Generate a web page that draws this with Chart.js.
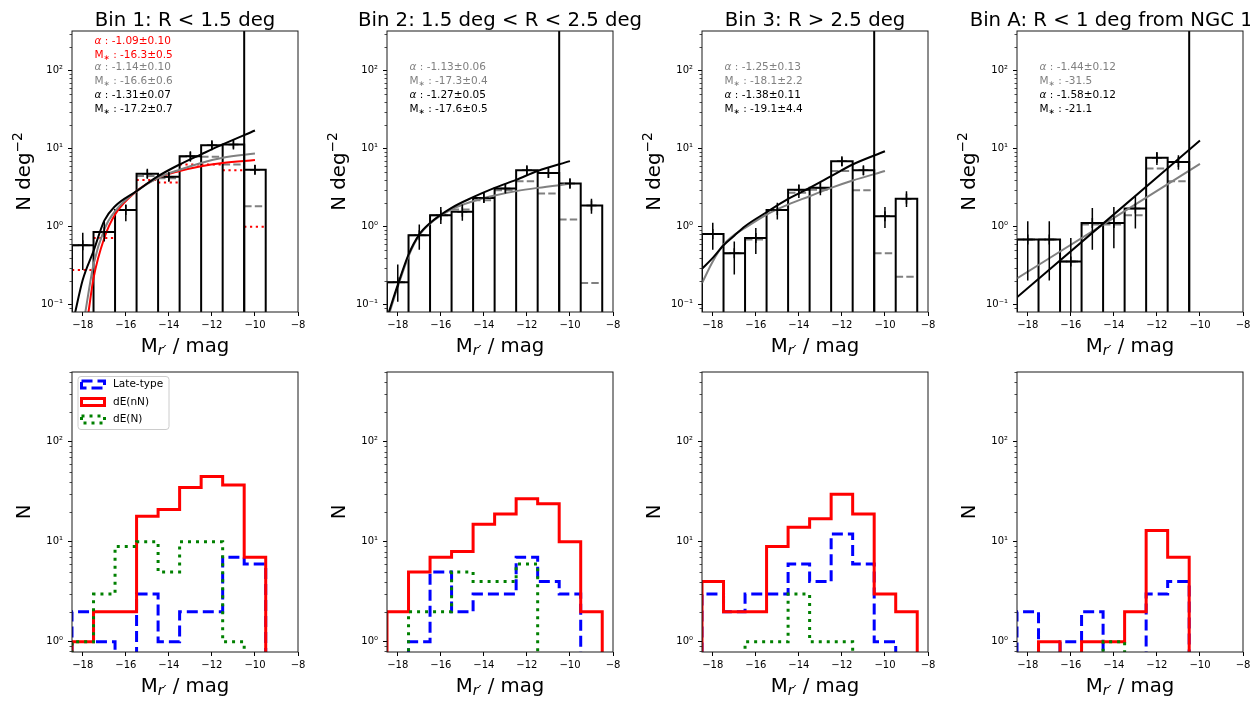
<!DOCTYPE html>
<html>
<head>
<meta charset="utf-8">
<title>Dwarf galaxy luminosity functions</title>
<script src="https://cdn.jsdelivr.net/npm/chart.js@4.4.1/dist/chart.umd.min.js"></script>
<style>
  html, body { margin: 0; padding: 0; background: #fff; }
  body { width: 1250px; height: 701px; position: relative; overflow: hidden; }
</style>
</head>
<body>
<script>
// ---- data ----
const binCentres = [-18, -17, -16, -15, -14, -13, -12, -11, -10, -9];
const completenessLimit = -10.5;
const xTickValues = [-18, -16, -14, -12, -10, -8];

const panelTitles = ['Bin 1: R < 1.5 deg', 'Bin 2: 1.5 deg < R < 2.5 deg', 'Bin 3: R > 2.5 deg', 'Bin A: R < 1 deg from NGC 1399'];

// top row: surface density (N deg^-2), black histogram + error bars
const density1 = [0.58, 0.86, 1.64, 4.8, 4.4, 8.05, 11.1, 11.4, 5.4, null];
const errLow1 = [0.28, 0.65, 1.18, 4.2, 3.85, 6.9, 9.8, 10.1, 4.7, null];
const errHigh1 = [0.84, 1.18, 1.93, 5.4, 4.9, 9.1, 12.5, 12.8, 6.2, null];
const densityGrey1 = [0.58, 0.86, 1.64, 4.5, 4.2, 8.0, 7.9, 6.3, 1.84, null];
const densityRed1 = [0.28, 0.72, 1.64, 4.0, 3.7, 6.3, 6.3, 5.3, 1.0, null];

const density2 = [0.195, 0.78, 1.41, 1.56, 2.35, 3.1, 5.3, 4.9, 3.6, 1.88];
const errLow2 = [0.11, 0.51, 1.09, 1.2, 2.03, 2.73, 4.6, 4.25, 3.1, 1.47];
const errHigh2 = [0.33, 1.07, 1.79, 1.93, 2.73, 3.56, 6.0, 5.5, 4.17, 2.3];
const densityGrey2 = [0.195, 0.78, 1.41, 1.67, 2.2, 2.95, 3.85, 2.67, 1.24, 0.19];

const density3 = [0.81, 0.46, 0.72, 1.64, 3.0, 3.16, 6.95, 5.3, 1.37, 2.29];
const errLow3 = [0.51, 0.245, 0.45, 1.24, 2.35, 2.55, 6.0, 4.6, 0.97, 1.79];
const errHigh3 = [1.13, 0.65, 0.97, 2.03, 3.5, 3.77, 7.8, 6.0, 1.79, 2.87];
const densityGrey3 = [0.81, 0.46, 0.69, 1.64, 2.73, 3.0, 5.2, 2.95, 0.46, 0.23];

const density4 = [0.69, 0.69, 0.36, 1.12, 1.12, 1.72, 7.7, 6.8, null, null];
const errLow4 = [0.205, 0.205, 0.05, 0.51, 0.53, 0.95, 6.2, 5.4, null, null];
const errHigh4 = [1.18, 1.18, 0.72, 1.75, 1.79, 2.47, 9.1, 8.3, null, null];
const densityGrey4 = [0.69, 0.69, 0.36, 1.07, 1.07, 1.41, 5.6, 3.85, null, null];

// Schechter fits, sampled off the curves
const fitMagBlack1 = [-18.4, -18, -17.5, -17, -16.5, -15.5, -14.5, -13.5, -12.5, -11.5, -10];
const fitBlack1 = [0.07, 0.21, 0.49, 1.2, 1.84, 2.87, 4.46, 6.3, 8.5, 11.4, 17.2];
const fitMagGrey1 = [-17.9, -17.5, -17, -16.5, -15.5, -14.5, -13.5, -12.5, -11.5, -10];
const fitGrey1 = [0.075, 0.33, 0.93, 1.59, 2.87, 4.25, 5.4, 6.6, 7.7, 8.7];
const fitMagRed1 = [-17.75, -17.5, -17, -16.5, -15.5, -14.5, -13.5, -12.5, -11.5, -10];
const fitRed1 = [0.075, 0.22, 0.72, 1.44, 2.87, 4.25, 5.2, 6.0, 6.6, 7.2];

const fitMag2 = [-18.45, -18, -17.5, -17, -16.5, -15.5, -14.5, -13.5, -12.5, -11.5, -10];
const fitBlack2 = [0.075, 0.18, 0.44, 0.8, 1.12, 1.75, 2.4, 3.16, 4.0, 5.2, 6.95];
const fitGrey2 = [0.07, 0.17, 0.42, 0.78, 1.1, 1.67, 2.13, 2.52, 2.87, 3.16, 3.56];

const fitMag3 = [-18.5, -18, -17.5, -17, -16.5, -15.5, -14.5, -13.5, -12.5, -11.5, -10];
const fitBlack3 = [0.29, 0.40, 0.58, 0.77, 1.02, 1.54, 2.28, 3.16, 4.46, 6.3, 9.3];
const fitGrey3 = [0.19, 0.36, 0.59, 0.79, 0.97, 1.44, 1.93, 2.47, 3.16, 3.93, 5.2];

const fitMag4 = [-18.5, -14.5, -10];
const fitBlack4 = [0.125, 1.1, 12.8];
const fitGrey4 = [0.218, 1.07, 6.4];

const fitAlpha1 = ['-1.09±0.10', '-1.14±0.10', '-1.31±0.07'];
const fitMstar1 = ['-16.3±0.5', '-16.6±0.6', '-17.2±0.7'];
const fitAlpha2 = ['-1.13±0.06', '-1.27±0.05'];
const fitMstar2 = ['-17.3±0.4', '-17.6±0.5'];
const fitAlpha3 = ['-1.25±0.13', '-1.38±0.11'];
const fitMstar3 = ['-18.1±2.2', '-19.1±4.4'];
const fitAlpha4 = ['-1.44±0.12', '-1.58±0.12'];
const fitMstar4 = ['-31.5', '-21.1'];

// bottom row: galaxy counts per morphological type
const seriesLabels = ['Late-type', 'dE(nN)', 'dE(N)'];
const lateType1 = [2, 1, 0, 3, 1, 2, 2, 7, 6, 0];
const dEnN1 = [1, 2, 2, 18, 21, 35, 45, 37, 7, 0];
const dEN1 = [1, 3, 9, 10, 5, 10, 10, 1, 0, 0];
const lateType2 = [0, 1, 5, 2, 3, 3, 7, 4, 3, 0];
const dEnN2 = [2, 5, 7, 8, 15, 19, 27, 24, 10, 2];
const dEN2 = [0, 2, 2, 5, 4, 4, 6, 0, 0, 0];
const lateType3 = [3, 2, 3, 3, 6, 4, 12, 6, 1, 0];
const dEnN3 = [4, 2, 2, 9, 14, 17, 30, 19, 3, 2];
const dEN3 = [0, 0, 1, 1, 3, 1, 1, 0, 0, 0];
const lateType4 = [2, 0, 1, 2, 0, 0, 3, 4, 0, 0];
const dEnN4 = [0, 1, 0, 1, 1, 2, 13, 7, 0, 0];
const dEN4 = [0, 0, 0, 0, 1, 0, 0, 0, 0, 0];

// ---- layout ----
const FAMILY = '"DejaVu Sans", sans-serif';
const GREY = '#808080';
const floorValue = 1e-3;   // stands in for zero on the log axes
const panelLefts = [72, 387, 702, 1017];
const plotWidth = 226, yAxisWidth = 53, leftPad = 17, xAxisHeight = 43, canvasWidth = 360;
const rows = [
  { canvasTop: 0, height: 356, padTop: 31, plotHeight: 281, yMin: 0.081, yMax: 324 },
  { canvasTop: 356, height: 345, padTop: 16, plotHeight: 280, yMin: 0.79, yMax: 500 }
];

Chart.defaults.font.family = FAMILY;
Chart.defaults.font.size = 10;
Chart.defaults.color = '#000';

function isDecade(v) {
  const e = Math.log10(v);
  return Math.abs(e - Math.round(e)) < 1e-9;
}

function logTickValues(min, max) {
  const out = [];
  for (let e = Math.floor(Math.log10(min)); e <= Math.ceil(Math.log10(max)); e++) {
    for (let m = 1; m <= 9; m++) {
      const v = +(m * Math.pow(10, e)).toPrecision(6);
      if (v >= min && v <= max) out.push(v);
    }
  }
  return out;
}

const superDigits = { '-': '⁻', '0': '⁰', '1': '¹', '2': '²', '3': '³' };
function decadeLabel(v) {
  if (!isDecade(v)) return '';
  return '10' + String(Math.round(Math.log10(v))).split('').map(c => superDigits[c]).join('');
}

// ---- point lists built from the arrays ----
function barOutline(values) {
  const pts = [];
  values.forEach((v, i) => {
    if (v == null) return;
    const l = binCentres[i] - 0.5, r = binCentres[i] + 0.5;
    pts.push({ x: l, y: floorValue }, { x: l, y: v }, { x: r, y: v }, { x: r, y: floorValue }, { x: r, y: null });
  });
  return pts;
}

function levelSegments(values) {
  const pts = [];
  values.forEach((v, i) => {
    if (v == null) return;
    pts.push({ x: binCentres[i] - 0.5, y: v }, { x: binCentres[i] + 0.5, y: v }, { x: binCentres[i] + 0.5, y: null });
  });
  return pts;
}

function errorSegments(lo, hi) {
  const pts = [];
  lo.forEach((v, i) => {
    if (v == null) return;
    pts.push({ x: binCentres[i], y: v }, { x: binCentres[i], y: hi[i] }, { x: binCentres[i], y: null });
  });
  return pts;
}

function centrePoints(values) {
  return values.map((v, i) => ({ x: binCentres[i], y: v })).filter(p => p.y != null);
}

function stepOutline(counts) {
  const last = binCentres.length - 1;
  const pts = [{ x: binCentres[0] - 0.5, y: floorValue }];
  counts.forEach((n, i) => {
    const y = n > 0 ? n : floorValue;
    pts.push({ x: binCentres[i] - 0.5, y }, { x: binCentres[i] + 0.5, y });
  });
  pts.push({ x: binCentres[last] + 0.5, y: floorValue });
  return pts;
}

function curvePoints(mags, values) {
  return mags.map((m, i) => ({ x: m, y: values[i] }));
}

function lineSet(data, colour, width, dash, label) {
  return {
    type: 'line', label, data, borderColor: colour, borderWidth: width, borderDash: dash || [],
    pointRadius: 0, fill: false, tension: 0, spanGaps: false,
    borderCapStyle: 'butt', borderJoinStyle: 'miter'
  };
}

// ---- text drawing ----
const labelFont = '19.7px ' + FAMILY;
const subFont = 'italic 13.8px ' + FAMILY;
const supFont = '13.8px ' + FAMILY;
const annFont = '10.5px ' + FAMILY;
const annItalic = 'italic 10.5px ' + FAMILY;
const starFont = '7.5px ' + FAMILY;

function drawRich(ctx, parts, x, y, align) {
  ctx.textAlign = 'left';
  let w = 0;
  parts.forEach(p => { ctx.font = p.font; w += ctx.measureText(p.text).width; });
  let cx = align === 'center' ? x - w / 2 : x;
  parts.forEach(p => {
    ctx.font = p.font;
    ctx.fillText(p.text, cx, y + (p.dy || 0));
    cx += ctx.measureText(p.text).width;
  });
}

const xTitleParts = [
  { text: 'M', font: labelFont },
  { text: 'r′', font: subFont, dy: 3.5 },
  { text: ' / mag', font: labelFont }
];
const densityTitleParts = [
  { text: 'N deg', font: labelFont },
  { text: '−2', font: supFont, dy: -8 }
];
const countTitleParts = [{ text: 'N', font: labelFont }];

const panelDecor = {
  id: 'panelDecor',
  afterDatasetsDraw(chart, args, o) {
    const ctx = chart.ctx, a = chart.chartArea, ys = chart.scales.y;
    ctx.save();

    // minor y ticks
    ctx.strokeStyle = '#000';
    ctx.lineWidth = 0.7;
    ctx.beginPath();
    ys.ticks.forEach(t => {
      if (isDecade(t.value)) return;
      const y = Math.round(ys.getPixelForValue(t.value)) + 0.5;
      ctx.moveTo(a.left - 2.5, y);
      ctx.lineTo(a.left, y);
    });
    ctx.stroke();

    // frame
    ctx.lineWidth = 1;
    ctx.strokeStyle = '#1a1a1a';
    ctx.strokeRect(a.left, a.top, a.right - a.left, a.bottom - a.top);

    ctx.fillStyle = '#000';
    ctx.textBaseline = 'alphabetic';
    if (o.title) {
      ctx.font = labelFont;
      ctx.textAlign = 'center';
      ctx.fillText(o.title, (a.left + a.right) / 2, a.top - 5.5);
    }
    drawRich(ctx, xTitleParts, (a.left + a.right) / 2, a.bottom + 39.5, 'center');
    ctx.save();
    ctx.translate(a.left - 42, (a.top + a.bottom) / 2);
    ctx.rotate(-Math.PI / 2);
    drawRich(ctx, o.yTitle, 0, 0, 'center');
    ctx.restore();

    // fit parameters
    if (o.alpha) {
      const offsets = [10.2, 24.5, 35.8, 50.2, 64.5, 78.5].slice(6 - 2 * o.alpha.length);
      ctx.textBaseline = 'middle';
      o.alpha.forEach((val, k) => {
        ctx.fillStyle = o.fitColours[k];
        drawRich(ctx, [{ text: 'α', font: annItalic }, { text: ' : ' + val, font: annFont }],
          a.left + 22.5, a.top + offsets[2 * k], 'left');
        drawRich(ctx, [{ text: 'M', font: annFont }, { text: '∗', font: starFont, dy: 2.5 }, { text: ' : ' + o.mstar[k], font: annFont }],
          a.left + 22.5, a.top + offsets[2 * k + 1], 'left');
      });
    }

    // legend
    if (o.legend) {
      const lx = a.left + 6, ly = a.top + 4.5, lw = 91, lh = 53;
      ctx.beginPath();
      if (ctx.roundRect) ctx.roundRect(lx, ly, lw, lh, 3); else ctx.rect(lx, ly, lw, lh);
      ctx.fillStyle = 'rgba(255,255,255,0.8)';
      ctx.fill();
      ctx.lineWidth = 1;
      ctx.strokeStyle = '#cccccc';
      ctx.stroke();
      seriesLabels.forEach((label, i) => {
        const ds = chart.data.datasets.find(d => d.label === label);
        const cy = a.top + 12.5 + i * 17.5;
        ctx.setLineDash(ds.borderDash);
        ctx.strokeStyle = ds.borderColor;
        ctx.lineWidth = 3;
        ctx.strokeRect(a.left + 9.5, cy - 3.5, 23, 7);
        ctx.setLineDash([]);
        ctx.fillStyle = '#000';
        ctx.font = annFont;
        ctx.textAlign = 'left';
        ctx.textBaseline = 'middle';
        ctx.fillText(label, a.left + 41, cy);
      });
    }
    ctx.restore();
  }
};

function makeChart(col, row, datasets, decor) {
  const r = rows[row];
  const c = document.createElement('canvas');
  const left = panelLefts[col] - yAxisWidth - leftPad;
  c.width = canvasWidth;
  c.height = r.height;
  c.style.cssText = 'position:absolute;left:' + left + 'px;top:' + r.canvasTop + 'px;width:' +
    canvasWidth + 'px;height:' + r.height + 'px';
  document.body.appendChild(c);
  const yTicks = logTickValues(r.yMin, r.yMax);
  return new Chart(c, {
    type: 'line',
    data: { datasets },
    options: {
      responsive: false,
      animation: false,
      events: [],
      layout: {
        padding: {
          left: leftPad, top: r.padTop, right: canvasWidth - leftPad - yAxisWidth - plotWidth,
          bottom: r.height - r.padTop - r.plotHeight - xAxisHeight
        }
      },
      plugins: { legend: { display: false }, tooltip: { enabled: false }, panelDecor: decor },
      scales: {
        x: {
          type: 'linear', min: -18.5, max: -8, offset: false,
          afterBuildTicks: s => { s.ticks = xTickValues.map(v => ({ value: v })); },
          afterFit: s => { s.height = xAxisHeight; },
          ticks: {
            autoSkip: false, maxRotation: 0, padding: 3, font: { size: 10 },
            callback: v => (v < 0 ? '−' + Math.abs(v) : String(v))
          },
          grid: { drawOnChartArea: false, drawTicks: true, tickLength: 4, tickColor: '#000', tickWidth: 1 },
          border: { display: false }
        },
        y: {
          type: 'logarithmic', min: r.yMin, max: r.yMax,
          afterBuildTicks: s => { s.ticks = yTicks.map(v => ({ value: v })); },
          afterFit: s => { s.width = yAxisWidth; },
          ticks: { autoSkip: false, padding: 5, font: { size: 10 }, callback: v => decadeLabel(v) },
          grid: {
            drawOnChartArea: false, drawTicks: true, tickLength: 4, tickWidth: 1,
            tickColor: ctx => (ctx.tick && isDecade(ctx.tick.value) ? '#000' : 'rgba(0,0,0,0)')
          },
          border: { display: false }
        }
      }
    },
    plugins: [panelDecor]
  });
}

// ---- top row ----
const topPanels = [
  { dens: density1, lo: errLow1, hi: errHigh1, grey: densityGrey1, red: densityRed1,
    fits: [[fitMagBlack1, fitBlack1, '#000'], [fitMagGrey1, fitGrey1, GREY], [fitMagRed1, fitRed1, 'red']],
    alpha: fitAlpha1, mstar: fitMstar1, fitColours: ['red', GREY, '#000'] },
  { dens: density2, lo: errLow2, hi: errHigh2, grey: densityGrey2,
    fits: [[fitMag2, fitBlack2, '#000'], [fitMag2, fitGrey2, GREY]],
    alpha: fitAlpha2, mstar: fitMstar2, fitColours: [GREY, '#000'] },
  { dens: density3, lo: errLow3, hi: errHigh3, grey: densityGrey3,
    fits: [[fitMag3, fitBlack3, '#000'], [fitMag3, fitGrey3, GREY]],
    alpha: fitAlpha3, mstar: fitMstar3, fitColours: [GREY, '#000'] },
  { dens: density4, lo: errLow4, hi: errHigh4, grey: densityGrey4,
    fits: [[fitMag4, fitBlack4, '#000'], [fitMag4, fitGrey4, GREY]],
    alpha: fitAlpha4, mstar: fitMstar4, fitColours: [GREY, '#000'] }
];

topPanels.forEach((p, i) => {
  // first dataset is drawn on top
  const sets = [
    lineSet([{ x: completenessLimit, y: floorValue }, { x: completenessLimit, y: 1e4 }], '#000', 2),
    lineSet(errorSegments(p.lo, p.hi), '#000', 1.5),
    { type: 'line', data: centrePoints(p.dens), showLine: false, pointStyle: 'cross',
      pointRadius: 5, pointBorderWidth: 1.5, pointBorderColor: '#000' }
  ];
  p.fits.forEach(f => {
    const s = lineSet(curvePoints(f[0], f[1]), f[2], 2);
    s.cubicInterpolationMode = 'monotone';
    sets.push(s);
  });
  sets.push(lineSet(barOutline(p.dens), '#000', 2));
  if (p.red) sets.push(lineSet(levelSegments(p.red), 'red', 2, [2.2, 3.6]));
  sets.push(lineSet(levelSegments(p.grey), GREY, 2, [7.4, 3.2]));
  makeChart(i, 0, sets, {
    title: panelTitles[i], yTitle: densityTitleParts,
    alpha: p.alpha, mstar: p.mstar, fitColours: p.fitColours
  });
});

// ---- bottom row ----
const bottomPanels = [
  [lateType1, dEnN1, dEN1],
  [lateType2, dEnN2, dEN2],
  [lateType3, dEnN3, dEN3],
  [lateType4, dEnN4, dEN4]
];

bottomPanels.forEach((counts, i) => {
  const sets = [
    lineSet(stepOutline(counts[2]), 'green', 3, [3, 5], seriesLabels[2]),
    lineSet(stepOutline(counts[1]), 'red', 3, [], seriesLabels[1]),
    lineSet(stepOutline(counts[0]), 'blue', 3, [11, 5], seriesLabels[0])
  ];
  makeChart(i, 1, sets, { yTitle: countTitleParts, legend: i === 0 });
});
</script>
</body>
</html>
